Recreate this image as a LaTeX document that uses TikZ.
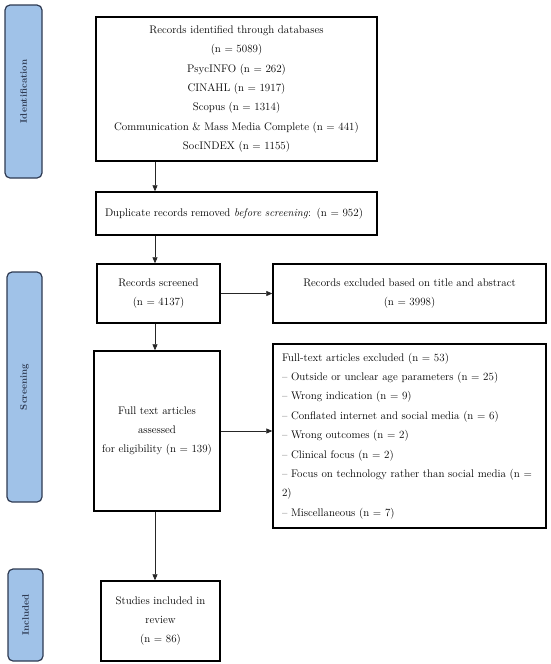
\documentclass[tikz,border=0pt]{standalone}
\usepackage{amsmath}
\usepackage{amssymb}
\usepackage{tikz}
\usetikzlibrary{arrows.meta}

\definecolor{phase}{RGB}{160,194,232}
\definecolor{phaseline}{RGB}{46,58,82}

\tikzset{
  box/.style={draw=black,line width=1.4pt,inner sep=0pt,
    font=\fontsize{11}{19.4}\selectfont,align=center},
  phasebox/.style={draw=phaseline,fill=phase,line width=1.2pt,rounded corners=5pt,
    rotate=90,inner sep=0pt,text=phaseline,font=\fontsize{9.5}{11}\selectfont\bfseries},
  arr/.style={line width=0.7pt,black!85,-{Triangle[length=6pt,width=5pt]}}
}

\begin{document}
\begin{tikzpicture}[x=1pt,y=-1pt]
	\useasboundingbox (0,0) rectangle (550,664);
\coordinate (axis) at (155,0);

% phases
\node[phasebox,minimum width=173,minimum height=37] (Id) at (23.5,91.5) {Identification};
\node[phasebox,minimum width=230,minimum height=35] (Sc) at (24.5,387) {Screening};
\node[phasebox,minimum width=92,minimum height=35] (In) at (25.5,615) {Included};

% boxes
\node[box,minimum width=281,minimum height=144] (recid) at (236.5,89)
 {Records identified through databases\\(n = 5089)\\PsycINFO (n = 262)\\CINAHL (n = 1917)\\Scopus (n = 1314)\\Communication \& Mass Media Complete (n = 441)\\SocINDEX (n = 1155)};
\node[box,minimum width=281,minimum height=43,align=left,text width=263,inner xsep=9] (dup) at (236.5,213.5)
 {Duplicate records removed \textit{before screening}: (n = 952)};
\node[box,minimum width=123,minimum height=59] (scr) at (158.5,293.5)
 {Records screened\\(n = 4137)};
\node[box,minimum width=273,minimum height=59] (excl) at (409.5,293.5)
 {Records excluded based on title and abstract\\(n = 3998)};
\node[box,minimum width=126,minimum height=160] (full) at (157,431)
 {Full text articles\\assessed\\for eligibility (n = 139)};
\node[box,minimum width=273,minimum height=184,align=left,text width=255,inner xsep=9] (fexcl) at (409.5,436)
 {Full-text articles excluded (n = 53)\\
  -- Outside or unclear age parameters (n = 25)\\
  -- Wrong indication (n = 9)\\
  -- Conflated internet and social media (n = 6)\\
  -- Wrong outcomes (n = 2)\\
  -- Clinical focus (n = 2)\\
  -- Focus on technology rather than social media (n =\\
  2)\\
  -- Miscellaneous (n = 7)};
\node[box,minimum width=119,minimum height=80] (incl) at (160.5,621)
 {Studies included in\\review\\(n = 86)};

% arrows
\draw[arr] (recid.south -| axis) -- (dup.north -| axis);
\draw[arr] (dup.south -| axis) -- (scr.north -| axis);
\draw[arr] (scr.east) -- (excl.west);
\draw[arr] (scr.south -| axis) -- (full.north -| axis);
\draw[arr] (full.east) -- (fexcl.west |- full.east);
\draw[arr] (full.south -| axis) -- (incl.north -| axis);

\end{tikzpicture}
\end{document}
